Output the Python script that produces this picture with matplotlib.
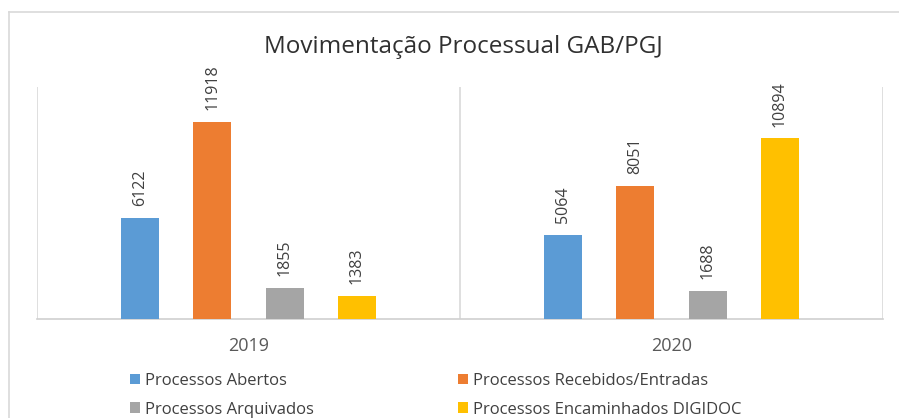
import numpy as np
import matplotlib
matplotlib.use("Agg")
import matplotlib.pyplot as plt
from matplotlib.patches import Patch
from matplotlib.lines import Line2D

plt.rcParams['font.family'] = ['Open Sans', 'DejaVu Sans']

# data
anos = ["2019", "2020"]
series = ["Processos Abertos", "Processos Recebidos/Entradas",
          "Processos Arquivados", "Processos Encaminhados DIGIDOC"]
abertos = [6122, 5064]
recebidos = [11918, 8051]
arquivados = [1855, 1688]
encaminhados = [1383, 10894]
valores = [abertos, recebidos, arquivados, encaminhados]
cores = ["#5B9BD5", "#ED7D31", "#A5A5A5", "#FFC000"]

fig = plt.figure(figsize=(8.99, 4.18), dpi=100)
fig.patch.set_facecolor("white")

# moldura externa do grafico: so o topo e a esquerda aparecem
x0, y0 = 9/899, 1 - 12/418
fig.add_artist(Line2D([x0, 1], [y0, y0], transform=fig.transFigure, color="#D9D9D9", lw=1.2))
fig.add_artist(Line2D([x0, x0], [0, y0], transform=fig.transFigure, color="#D9D9D9", lw=1.2))

ax = fig.add_axes([37/899, 1 - 319/418, 846/899, 232/418])
x = np.arange(len(anos))
step = 0.171
width = 0.09
for i, (vals, cor) in enumerate(zip(valores, cores)):
    pos = x + (i - 1.5) * step
    ax.bar(pos, vals, width, color=cor, zorder=3)
    for px, v in zip(pos, vals):
        ax.annotate(str(v), (px, v), xytext=(0, 8.5), textcoords="offset points",
                    rotation=90, ha="center", va="bottom", fontsize=11.5, color="#404040")

ax.set_xlim(-0.5, 1.5)
ax.set_ylim(0, 14000)
for b in [-0.5, 0.5, 1.5]:
    ax.axvline(b, color="#D9D9D9", lw=1.2, zorder=1)
for s in ["top", "left", "right"]:
    ax.spines[s].set_visible(False)
ax.spines["bottom"].set_color("#D0D0D0")
ax.spines["bottom"].set_linewidth(1.2)
ax.set_yticks([])
ax.set_xticks(x)
ax.set_xticklabels(anos, fontsize=13, color="#595959")
ax.tick_params(axis="x", length=0, pad=13)

fig.text(463/899, 1 - 47/418, "Movimentação Processual GAB/PGJ", ha="center", va="center",
         fontsize=17.5, color="#303030")

# legenda em duas colunas
h = [Patch(facecolor=c) for c in cores]
kw = dict(loc="upper left", frameon=False, fontsize=12, ncol=1, borderpad=0,
          borderaxespad=0, handlelength=0.6, handleheight=0.6, handletextpad=0.3,
          labelspacing=0.75, labelcolor="#404040")
fig.legend([h[0], h[2]], [series[0], series[2]], bbox_to_anchor=(130/899, 1 - 373/418), **kw)
fig.legend([h[1], h[3]], [series[1], series[3]], bbox_to_anchor=(458/899, 1 - 373/418), **kw)

fig.savefig("out.png", dpi=100, facecolor="white")
